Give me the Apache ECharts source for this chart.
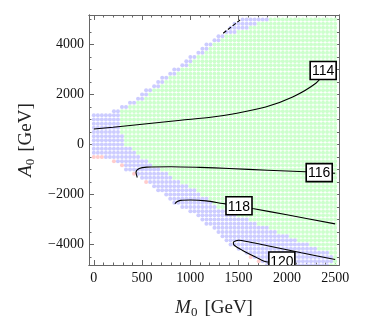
<!DOCTYPE html>
<html><head><meta charset="utf-8">
<script src="https://cdn.jsdelivr.net/npm/echarts@6/dist/echarts.min.js"></script>
<style>html,body{margin:0;padding:0;background:#fff}#c{width:374px;height:324px}</style>
</head><body><div id="c"></div>
<script>
// ---- scan lattice (61 x 61 points over M0 0..2500, A0 -5000..5000) ----
const M0_STEP = 2500 / 60;
const A0_START = -5000, A0_STEP = 10000 / 60;
const N_COLS = 61;

// per lattice row j = 1..60 (bottom to top): first column index present, first green column index
const rowFirst = [43,41,39,38,36,34,33,32,31,30, 28,27,26,24,22,20,19,18,16,15,
                  13,12,10,8,7,5,0,0,0,0, 0,0,0,0,0,0,0,5,7,9,
                  11,12,13,15,16,17,19,20,22,23, 24,26,27,28,30,31,33,34,35,37];
const rowGreen = [59,60,60,59,56,54,51,49,46,44, 41,39,36,34,31,30,29,27,26,24,
                  22,20,19,17,15,14,12,11,10,8, 8,8,7,7,7,7,7,7,9,11,
                  13,14,15,17,18,19,21,22,24,25, 26,28,29,30,32,33,36,39,41,44];
// pink points [column, row]
const pinkDots = [[0,27],[1,27],[2,27],[5,26],[7,25],[10,23],[13,21],[39,3],[41,2]];

// ---- contours (M0, A0) ----
const contour114 = [[0,620],[200,690],[550,830],[900,970],[1230,1100],[1440,1220],[1780,1500],[2060,1900],[2300,2450],[2400,2900],[2500,3300]];
const contour116 = [[450,-1320],[437,-1110],[470,-960],[550,-905],[800,-890],[1096,-916],[1405,-960],[1800,-1030],[2193,-1092],[2500,-1150]];
const contour118 = [[840,-2370],[860,-2290],[900,-2235],[1000,-2222],[1164,-2256],[1336,-2361],[1504,-2450],[1644,-2560],[2000,-2810],[2500,-3175]];
const contour120 = [[2050,-4700],[1800,-4700],[1680,-4506],[1541,-4237],[1455,-4030],[1445,-3925],[1500,-3830],[1610,-3900],[1800,-4050],[2150,-4330],[2500,-4600]];
const contourTop = [[1340,4450],[1515,4980]];
const labelPos = [[2376,2960],[2335,-1125],[1504,-2450],[1948,-4660]];
const labelText = ['114','116','118','120'];

// ---- ticks ----
const xMajor = [0,500,1000,1500,2000,2500];
const xMinor = [0,100,200,300,400,500,600,700,800,900,1000,1100,1200,1300,1400,1500,1600,1700,1800,1900,2000,2100,2200,2300,2400,2500];
const yMajor = [-4000,-2000,0,2000,4000];
const yMinor = [-4500,-4000,-3500,-3000,-2500,-2000,-1500,-1000,-500,0,500,1000,1500,2000,2500,3000,3500,4000,4500,5000];

const COLORS = ['#ccccff','#ccffcc','#ffcccc'];

const pinkSet = new Set(pinkDots.map(p => p[0] + ',' + p[1]));
const dots = [];
for (let j = 1; j <= 60; j++) {
  const a0 = A0_START + j * A0_STEP;
  for (let i = rowFirst[j-1]; i < N_COLS; i++) {
    const m0 = i * M0_STEP;
    let c = i >= rowGreen[j-1] ? 1 : 0;
    if (pinkSet.has(i + ',' + j)) c = 2;
    dots.push([m0, a0, c]);
  }
}

const XMIN = -50, XMAX = 2540, YMIN = -4820, YMAX = 5180;
const frame = '#666';
const serif = 'Liberation Serif';
const fmtX = v => String(v);
const fmtY = v => v < 0 ? '\u2212' + (-v) : String(v);

function axisX(pos, showLabel, ticks, len) {
  return {
    type: 'value', position: pos, min: XMIN, max: XMAX, gridIndex: 0,
    axisLine: { show: true, onZero: false, lineStyle: { color: frame, width: 1 } },
    axisTick: { show: true, inside: true, length: len, customValues: ticks, lineStyle: { color: frame, width: 1 } },
    axisLabel: { show: showLabel, customValues: ticks, margin: 6, color: '#111', fontFamily: serif, fontSize: 14, formatter: fmtX },
    splitLine: { show: false }
  };
}
function axisY(pos, showLabel, ticks, len) {
  return {
    type: 'value', position: pos, min: YMIN, max: YMAX, gridIndex: 0,
    axisLine: { show: true, onZero: false, lineStyle: { color: frame, width: 1 } },
    axisTick: { show: true, inside: true, length: len, customValues: ticks, lineStyle: { color: frame, width: 1 } },
    axisLabel: { show: showLabel, customValues: ticks, margin: 5, color: '#111', fontFamily: serif, fontSize: 14, formatter: fmtY },
    splitLine: { show: false }
  };
}

const nameRich = {
  i: { fontFamily: serif, fontStyle: 'italic', fontSize: 19, color: '#222', lineHeight: 22, verticalAlign: 'middle' },
  s: { fontFamily: serif, fontSize: 13, color: '#222', lineHeight: 12, verticalAlign: 'bottom' },
  g: { fontSize: 19, width: 7, lineHeight: 22 },
  n: { fontFamily: serif, fontSize: 19, color: '#222', lineHeight: 22, verticalAlign: 'middle' }
};
const xa0 = axisX('bottom', true, xMajor, 5);
xa0.name = '{i|M}{s|0}{g|}{n|[GeV]}';
xa0.nameLocation = 'middle';
xa0.nameGap = 32;
xa0.nameTextStyle = { fontFamily: serif, rich: nameRich };
const ya0 = axisY('left', true, yMajor, 5);
ya0.name = '{i|A}{s|0}{g|}{n|[GeV]}';
ya0.nameLocation = 'middle';
ya0.nameGap = 50;
ya0.nameTextStyle = { fontFamily: serif, rich: nameRich };

const option = {
  animation: false,
  backgroundColor: '#fff',
  textStyle: { fontFamily: serif },
  grid: { left: 89, right: 35, top: 15, bottom: 59, containLabel: false },
  xAxis: [ xa0, axisX('bottom', false, xMinor, 2.5), axisX('top', false, xMajor, 5), axisX('top', false, xMinor, 2.5) ],
  yAxis: [ ya0, axisY('left', false, yMinor, 2.5), axisY('right', false, yMajor, 5), axisY('right', false, yMinor, 2.5) ],
  series: [
    {
      type: 'custom', coordinateSystem: 'cartesian2d', xAxisIndex: 0, yAxisIndex: 0, clip: true, z: 1,
      data: dots,
      renderItem: (params, api) => {
        const p = api.coord([api.value(0), api.value(1)]);
        return { type: 'circle', shape: { cx: p[0], cy: p[1], r: 2.0 }, style: { fill: COLORS[api.value(2)] } };
      }
    },
    ...[contour114, contour116, contour118, contour120].map(c => ({
      type: 'line', data: c, showSymbol: false, symbol: 'none', smooth: 0.3, clip: true, z: 3,
      lineStyle: { color: '#000', width: 1.1 }
    })),
    { type: 'line', data: contourTop, showSymbol: false, symbol: 'none', clip: true, z: 3,
      lineStyle: { color: '#000', width: 1.1, type: [4, 2] } },
    {
      type: 'custom', coordinateSystem: 'cartesian2d', clip: true, z: 5,
      data: labelPos,
      renderItem: (params, api) => {
        const p = api.coord([api.value(0), api.value(1)]);
        const w = 26, h = 18;
        return { type: 'group', children: [
          { type: 'rect', shape: { x: p[0] - w/2, y: p[1] - h/2, width: w, height: h },
            style: { fill: '#fff', stroke: '#000', lineWidth: 1.6 } },
          { type: 'text', style: { x: p[0], y: p[1] + 1, text: labelText[params.dataIndex], fill: '#000',
            font: '14px "Liberation Sans", Arial, sans-serif', textAlign: 'center', textVerticalAlign: 'middle' } }
        ] };
      }
    }
  ]
};
const chart = echarts.init(document.getElementById('c'), null, { renderer: 'canvas' });
chart.setOption(option);
</script>
</body></html>
